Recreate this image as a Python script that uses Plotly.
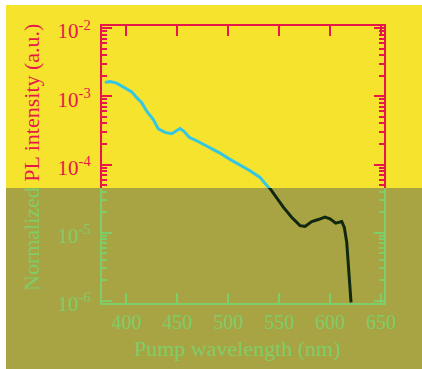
import plotly.graph_objects as go

# ---- data ----
wavelength_nm = [378.9, 383.9, 390.4, 398.6, 405.2, 410.1, 415.0, 419.9, 426.4, 431.3,
                 437.9, 444.5, 448.7, 452.6, 456.5, 461.8, 469.0, 472.3, 482.1, 491.9,
                 501.7, 511.6, 521.4, 531.2, 541.0, 545.9, 554.1, 562.3, 570.5, 575.4,
                 582.0, 588.5, 595.0, 600.0, 605.6, 611.5, 614.0, 616.4, 617.9, 619.3, 620.6]
pl_intensity = [1.59e-3, 1.65e-3, 1.56e-3, 1.34e-3, 1.16e-3, 9.55e-4, 8.05e-4, 6.05e-4, 4.56e-4, 3.32e-4,
                2.96e-4, 2.83e-4, 3.06e-4, 3.36e-4, 3.06e-4, 2.49e-4, 2.23e-4, 2.10e-4, 1.74e-4, 1.47e-4,
                1.19e-4, 9.84e-5, 8.11e-5, 6.47e-5, 4.45e-5, 3.54e-5, 2.37e-5, 1.69e-5, 1.27e-5, 1.24e-5,
                1.46e-5, 1.56e-5, 1.69e-5, 1.60e-5, 1.38e-5, 1.46e-5, 1.20e-5, 7.19e-6, 3.64e-6, 1.84e-6, 9.5e-7]
x_tickvals = [400, 450, 500, 550, 600, 650]
y_tickvals = [1e-6, 1e-5, 1e-4, 1e-3, 1e-2]
y_ticktext = ["10<sup>-6</sup>", "10<sup>-5</sup>", "10<sup>-4</sup>", "10<sup>-3</sup>", "10<sup>-2</sup>"]
x_title = "Pump wavelength (nm)"
y_title_low = "Normalized"
y_title_high = "PL intensity (a.u.)"

# ---- style ----
W, H = 422, 369
L, R, T, B = 102, 38, 26, 66
PW, PH = W - L - R, H - T - B
YELLOW = "#f5e32e"
OLIVE = "#a8a444"
RED = "#e8174b"
GREEN = "#7fcd68"
CYAN = "#35c6e4"
DARK = "#10280f"
FONT = "Liberation Serif"

XR = [376, 653]
LOGR = [-6.03, -1.97]
split_py = 188
s = (H - B - split_py) / PH
split_log = LOGR[0] + s * (LOGR[1] - LOGR[0])

minor_vals = [k * 10.0 ** e for e in range(-7, -1) for k in range(2, 10)]

def px_x(p):
    return (p - L) / PW

def px_y(p):
    return (H - B - p) / PH

fig = go.Figure()
fig.add_trace(go.Scatter(x=wavelength_nm, y=pl_intensity, mode="lines",
                         line=dict(color=DARK, width=3), xaxis="x", yaxis="y",
                         showlegend=False))
fig.add_trace(go.Scatter(x=wavelength_nm, y=pl_intensity, mode="lines",
                         line=dict(color=CYAN, width=3), xaxis="x2", yaxis="y2",
                         showlegend=False))

def yax(color, dom, rng):
    return dict(type="log", domain=dom, range=rng, showgrid=False, zeroline=False,
                showline=True, linecolor=color, linewidth=2, mirror="ticks",
                ticks="inside", ticklen=10, tickwidth=2, tickcolor=color,
                tickmode="array", tickvals=y_tickvals, ticktext=y_ticktext,
                ticklabelstandoff=5, ticklabelshift=3,
                tickfont=dict(family=FONT, size=21, color=color),
                minor=dict(tickmode="array", tickvals=minor_vals, ticks="inside",
                           ticklen=5, tickwidth=2, tickcolor=color, showgrid=False))

fig.update_layout(
    width=W, height=H, margin=dict(l=L, r=R, t=T, b=B),
    paper_bgcolor=OLIVE, plot_bgcolor="rgba(0,0,0,0)",
    xaxis=dict(domain=[0, 1], range=XR, anchor="y", showgrid=False, zeroline=False,
               showline=True, linecolor=GREEN, linewidth=2,
               ticks="inside", ticklen=10, tickwidth=2, tickcolor=GREEN,
               tickmode="array", tickvals=x_tickvals,
               tickfont=dict(family=FONT, size=20, color=GREEN)),
    xaxis2=dict(domain=[0, 1], range=XR, anchor="y2", side="top", showgrid=False,
                zeroline=False, showline=True, linecolor=RED, linewidth=2,
                ticks="inside", ticklen=10, tickwidth=2, tickcolor=RED,
                tickmode="array", tickvals=x_tickvals, showticklabels=False),
    yaxis=dict(anchor="x", **yax(GREEN, [0, s], [LOGR[0], split_log])),
    yaxis2=dict(anchor="x2", **yax(RED, [s, 1], [split_log, LOGR[1]])),
    shapes=[
        dict(type="rect", xref="paper", yref="paper", x0=px_x(6), x1=px_x(500),
             y0=px_y(split_py), y1=px_y(5), fillcolor=YELLOW, line=dict(width=0), layer="below"),
        dict(type="rect", xref="paper", yref="paper", x0=px_x(-50), x1=px_x(500),
             y0=px_y(5), y1=px_y(-50), fillcolor="white", line=dict(width=0), layer="below"),
        dict(type="rect", xref="paper", yref="paper", x0=px_x(-50), x1=px_x(6),
             y0=px_y(500), y1=px_y(-50), fillcolor="white", line=dict(width=0), layer="below"),
    ],
    annotations=[
        dict(xref="paper", yref="paper", x=px_x(31), y=px_y(158), textangle=-90,
             xanchor="center", yanchor="middle", showarrow=False,
             text="<span style='color:%s'>%s</span> %s" % (GREEN, y_title_low, y_title_high),
             font=dict(family=FONT, size=22, color=RED)),
        dict(xref="paper", yref="paper", x=px_x(237.5), y=px_y(348),
             xanchor="center", yanchor="middle", showarrow=False,
             text=x_title, font=dict(family=FONT, size=22, color=GREEN)),
    ],
)

fig.write_html("out.html")
